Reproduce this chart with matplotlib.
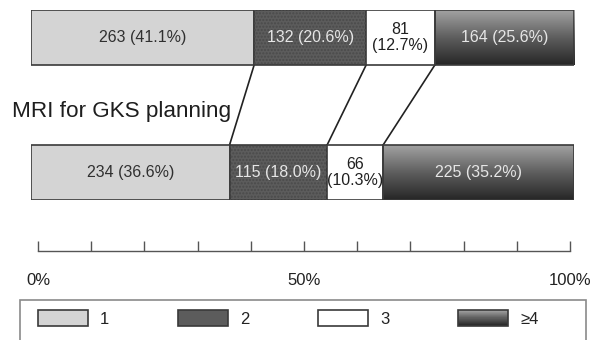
import numpy as np
import matplotlib
matplotlib.use("Agg")
import matplotlib.pyplot as plt
from matplotlib.patches import Rectangle, Patch
from matplotlib.legend_handler import HandlerBase
from matplotlib.colors import LinearSegmentedColormap

# ---------------- data ----------------
categories = ["1", "2", "3", "\u22654"]
top_counts = [263, 132, 81, 164]
top_pct = [41.1, 20.6, 12.7, 25.6]
bottom_counts = [234, 115, 66, 225]
bottom_pct = [36.6, 18.0, 10.3, 35.2]
row_label = "MRI for GKS planning"
scale_ticks = [0, 10, 20, 30, 40, 50, 60, 70, 80, 90, 100]
scale_labels = ["0%", "", "", "", "", "50%", "", "", "", "", "100%"]

# ---------------- style ----------------
plt.rcParams['font.family'] = ['Liberation Sans', 'DejaVu Sans']
W, H = 596, 340
fig = plt.figure(figsize=(W / 100, H / 100), dpi=100)
fig.patch.set_facecolor("white")

face = ["#d4d4d4", "#5c5c5c", "#ffffff", None]
txtcol = ["#303030", "#e6e6e6", "#202020", "#e6e6e6"]
edge = "#3a3a3a"
grad_cmap = LinearSegmentedColormap.from_list("g", ["#262626", "#5e5e5e", "#a2a2a2"])

bar_h = 55 / 135
ax = fig.add_axes([31 / W, (H - 200) / H, 543 / W, 190 / H])
ax.set_xlim(0, 100)
ax.set_ylim(-bar_h / 2, 1 + bar_h / 2)
ax.axis("off")


def draw_row(counts, pcts, ypos):
    total = sum(counts)
    widths = [c / total * 100 for c in counts]
    lefts = np.concatenate([[0], np.cumsum(widths)[:-1]])
    for i, (l, w) in enumerate(zip(lefts, widths)):
        fc = face[i] if face[i] is not None else "none"
        b = ax.barh(ypos, w, left=l, height=bar_h, color=fc, edgecolor=edge,
                    linewidth=1.2, zorder=2)[0]
        if i == 1:
            ax.barh(ypos, w, left=l, height=bar_h, color="none", edgecolor="#4a4a4a",
                    linewidth=0, hatch=".....", zorder=2.1)
        if i == 3:
            grad = np.linspace(0, 1, 256).reshape(-1, 1)
            im = ax.imshow(grad, extent=[l, l + w, ypos - bar_h / 2, ypos + bar_h / 2],
                           origin="lower", cmap=grad_cmap, aspect="auto", zorder=1.9)
            im.set_clip_path(b)
        if i == 2:
            label = f"{counts[i]}\n({pcts[i]:.1f}%)"
        else:
            label = f"{counts[i]} ({pcts[i]:.1f}%)"
        ax.text(l + w / 2, ypos, label, ha="center", va="center", fontsize=11.5,
                color=txtcol[i], zorder=3, linespacing=1.05)
    return np.cumsum(widths)


cum_top = draw_row(top_counts, top_pct, 1)
cum_bot = draw_row(bottom_counts, bottom_pct, 0)
ax.set_xlim(0, 100)
ax.set_ylim(-bar_h / 2, 1 + bar_h / 2)

for xt, xb in zip(cum_top[:-1], cum_bot[:-1]):
    ax.plot([xt, xb], [1 - bar_h / 2, bar_h / 2], color="#222222", lw=1.2, zorder=1)

ax.text(-3.5, 0.45, row_label, ha="left", va="center", fontsize=16.2,
        color="#1e1e1e", clip_on=False)

# ---------------- scale axis ----------------
sax = fig.add_axes([38 / W, (H - 251) / H, 532 / W, 0.02])
sax.set_xlim(0, 100)
sax.set_ylim(0, 1)
sax.patch.set_visible(False)
for s in ["top", "left", "right"]:
    sax.spines[s].set_visible(False)
sax.spines["bottom"].set_color("#555555")
sax.spines["bottom"].set_linewidth(1.0)
sax.set_yticks([])
sax.set_xticks(scale_ticks)
sax.set_xticklabels(scale_labels)
sax.tick_params(axis="x", direction="in", length=7, width=1.0, color="#555555",
                pad=16, labelsize=12, labelcolor="#222222")

# ---------------- legend ----------------
class GradientHandler(HandlerBase):
    def create_artists(self, legend, orig_handle, xdescent, ydescent,
                       width, height, fontsize, trans):
        arts = []
        n = 30
        for k in range(n):
            r = Rectangle((-xdescent, -ydescent + height * k / n), width, height / n + 0.3,
                          facecolor=grad_cmap(k / (n - 1)), edgecolor="none",
                          transform=trans)
            arts.append(r)
        border = Rectangle((-xdescent, -ydescent), width, height, facecolor="none",
                           edgecolor=edge, linewidth=1.2, transform=trans)
        arts.append(border)
        return arts


handles = [
    Patch(facecolor=face[0], edgecolor=edge, linewidth=1.2),
    Patch(facecolor=face[1], edgecolor=edge, linewidth=1.2),
    Patch(facecolor=face[2], edgecolor=edge, linewidth=1.2),
    Patch(facecolor="#666666", edgecolor=edge, linewidth=1.2),
]
leg = fig.legend(handles, categories, loc="upper left",
                 bbox_to_anchor=(38 / W, (H - 310) / H), ncol=4, frameon=False,
                 fontsize=12, handlelength=3.0, handleheight=1.1, handletextpad=0.7,
                 columnspacing=4.15, borderpad=0, borderaxespad=0,
                 handler_map={handles[3]: GradientHandler()})
for t in leg.get_texts():
    t.set_color("#222222")

frame = Rectangle((20 / W, -0.1), 566 / W, (H - 300) / H + 0.1, transform=fig.transFigure,
                  facecolor="none", edgecolor="#8a8a8a", linewidth=1.2)
fig.patches.append(frame)

fig.savefig("out.png", dpi=100, facecolor="white")
